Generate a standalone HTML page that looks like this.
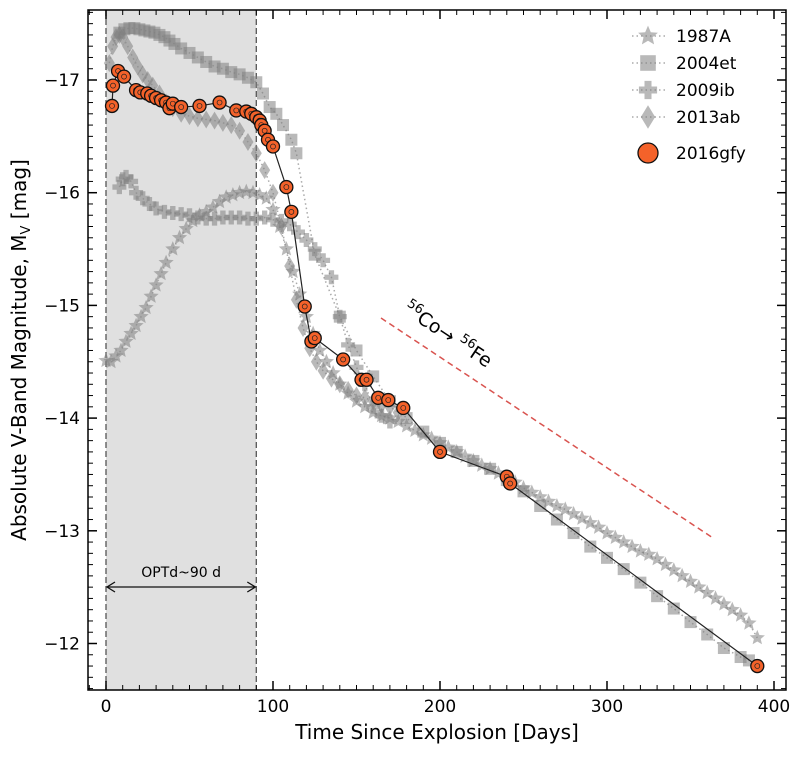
<!DOCTYPE html>
<html><head><meta charset="utf-8"><style>
body{margin:0;background:#fff;}
svg{font-family:"DejaVu Sans","Liberation Sans",sans-serif;}
</style></head><body>
<svg id="chart" width="804" height="752" viewBox="0 0 804 752" xmlns="http://www.w3.org/2000/svg"></svg>
<script>
const days87=[0,3,6,9,12,15,18,21,24,27,30,33,36,40,44,48,52,56,60,64,68,72,76,80,84,88,92,96,100,104,108,112,116,120,124,128,132,136,140,145,150,155,160,165,170,175,180,185,190,195,200,205,210,215,220,225,230,235,240,245,250,255,260,265,270,275,280,285,290,295,300,305,310,315,320,325,330,335,340,345,350,355,360,365,370,375,380,385,390];
const mag87=[-14.51,-14.5,-14.55,-14.6,-14.68,-14.75,-14.82,-14.9,-14.98,-15.08,-15.18,-15.28,-15.38,-15.5,-15.6,-15.68,-15.75,-15.8,-15.83,-15.87,-15.92,-15.96,-15.98,-16.0,-16.01,-16.0,-15.98,-15.95,-15.85,-15.7,-15.5,-15.3,-15.1,-14.9,-14.75,-14.6,-14.5,-14.4,-14.3,-14.22,-14.15,-14.1,-14.05,-14.02,-14.0,-13.97,-13.93,-13.89,-13.85,-13.82,-13.78,-13.74,-13.7,-13.66,-13.62,-13.58,-13.55,-13.51,-13.47,-13.43,-13.38,-13.34,-13.3,-13.26,-13.22,-13.19,-13.15,-13.11,-13.07,-13.03,-12.98,-12.94,-12.9,-12.86,-12.82,-12.79,-12.75,-12.7,-12.65,-12.6,-12.55,-12.5,-12.45,-12.4,-12.35,-12.3,-12.25,-12.18,-12.05];
const days04=[8,11,14,17,20,23,26,29,32,35,38,41,45,50,55,60,65,70,75,80,85,90,94,98,102,106,111,114,125,140,150,160,170,180,190,200,210,220,230,240,250,260,270,280,290,300,310,320,330,340,350,360,370,380,385];
const mag04=[-17.42,-17.45,-17.46,-17.46,-17.45,-17.44,-17.43,-17.42,-17.4,-17.38,-17.35,-17.32,-17.28,-17.24,-17.2,-17.16,-17.12,-17.1,-17.07,-17.05,-17.02,-16.98,-16.88,-16.76,-16.7,-16.6,-16.47,-16.35,-15.45,-14.9,-14.6,-14.37,-14.15,-14.0,-13.88,-13.78,-13.7,-13.62,-13.55,-13.45,-13.35,-13.22,-13.1,-12.98,-12.86,-12.76,-12.66,-12.54,-12.42,-12.31,-12.19,-12.08,-11.96,-11.88,-11.85];
const days09=[8,10,12,15,18,22,26,30,35,40,45,50,55,60,65,70,75,80,85,90,95,100,105,110,115,120,125,130,135,140,145,150,155,160,165,170];
const mag09=[-16.05,-16.12,-16.14,-16.1,-16.0,-15.95,-15.9,-15.86,-15.83,-15.82,-15.81,-15.8,-15.78,-15.77,-15.77,-15.78,-15.78,-15.78,-15.77,-15.77,-15.78,-15.76,-15.75,-15.72,-15.65,-15.58,-15.5,-15.4,-15.25,-14.9,-14.65,-14.45,-14.3,-14.1,-14.02,-13.97];
const days13=[2,4,6,8,10,13,16,19,22,25,28,32,36,40,45,50,55,60,65,70,75,80,85,90,95,100,105,110,114,118,122,126,130,135,140,145,150,155,160,165,170,175];
const mag13=[-17.15,-17.3,-17.38,-17.4,-17.38,-17.3,-17.2,-17.12,-17.05,-17.0,-16.95,-16.88,-16.8,-16.75,-16.7,-16.68,-16.66,-16.65,-16.64,-16.62,-16.6,-16.55,-16.45,-16.35,-16.2,-16.0,-15.7,-15.35,-15.05,-14.8,-14.62,-14.5,-14.42,-14.35,-14.3,-14.25,-14.2,-14.18,-14.15,-14.12,-14.1,-14.05];
const daysGfy=[3.6,4.2,7.2,10.8,18,20.5,24.7,27,30,33,36,38,40,45,56,68,78,84,87,90,92,93,95,97,100,108,111,119,123,125,142,153,156,163,169,178,200,240,242,390];
const magGfy=[-16.77,-16.95,-17.08,-17.03,-16.91,-16.89,-16.88,-16.86,-16.84,-16.82,-16.8,-16.75,-16.79,-16.76,-16.77,-16.8,-16.73,-16.72,-16.7,-16.67,-16.64,-16.6,-16.55,-16.47,-16.41,-16.05,-15.83,-14.99,-14.68,-14.71,-14.52,-14.34,-14.34,-14.18,-14.16,-14.09,-13.7,-13.48,-13.42,-11.8];
const xTicks=[0,100,200,300,400];
const yTicks=[-17,-16,-15,-14,-13,-12];

const L=88,R=786,T=10,B=690;
const X=d=>106+1.67*d;
const Y=m=>80+(m+17)*112.7;
const svg=document.getElementById('chart');
const NS='http://www.w3.org/2000/svg';
function mk(tag,attrs,parent){const e=document.createElementNS(NS,tag);for(const k in attrs)e.setAttribute(k,attrs[k]);(parent||svg).appendChild(e);return e;}

let sh=mk('rect',{x:X(0),y:T,width:X(90)-X(0),height:B-T,fill:'#e0e0e0'});


[0,90].forEach(d=>{let l=mk('line',{x1:X(d),x2:X(d),y1:T,y2:B,stroke:'#555','stroke-width':1.3,'stroke-dasharray':'6,3'});

});

function star(cx,cy,r){let p=[];for(let i=0;i<10;i++){const a=-Math.PI/2+i*Math.PI/5;const rr=i%2?r*0.45:r;p.push((cx+rr*Math.cos(a)).toFixed(1)+','+(cy+rr*Math.sin(a)).toFixed(1));}return p.join(' ');}
function plus(cx,cy,r){const w=r*0.38;return [[-w,-r],[w,-r],[w,-w],[r,-w],[r,w],[w,w],[w,r],[-w,r],[-w,w],[-r,w],[-r,-w],[-w,-w]].map(q=>(cx+q[0]).toFixed(1)+','+(cy+q[1]).toFixed(1)).join(' ');}
function drawMarker(type,cx,cy,g,big){
  const s=big?1.3:1;
  if(type==='star')return mk('polygon',{points:star(cx,cy,8*s),fill:'#808080','fill-opacity':0.55},g);
  if(type==='square')return mk('rect',{x:cx-6*s,y:cy-6*s,width:12*s,height:12*s,fill:'#808080','fill-opacity':0.55},g);
  if(type==='plus')return mk('polygon',{points:plus(cx,cy,7*s),fill:'#808080','fill-opacity':0.55},g);
  return mk('polygon',{points:`${cx},${cy-9*s} ${cx+5.5*s},${cy} ${cx},${cy+9*s} ${cx-5.5*s},${cy}`,fill:'#808080','fill-opacity':0.55},g);
}
function series(name,days,mags,type){
  const g=mk('g',{});
  
  
  mk('polyline',{points:days.map((d,i)=>X(d)+','+Y(mags[i])).join(' '),fill:'none',stroke:'#aaa','stroke-width':1.5,'stroke-dasharray':'1.5,3'},g);
  days.forEach((d,i)=>{const m=drawMarker(type,X(d),Y(mags[i]),g);
    
    });
}
series('1987a',days87,mag87,'star');
series('2004et',days04,mag04,'square');
series('2009ib',days09,mag09,'plus');
series('2013ab',days13,mag13,'diamond');

const gg=mk('g',{});


mk('polyline',{points:daysGfy.map((d,i)=>X(d)+','+Y(magGfy[i])).join(' '),fill:'none',stroke:'#222','stroke-width':1.2},gg);
daysGfy.forEach((d,i)=>{const c=mk('circle',{cx:X(d),cy:Y(magGfy[i]),r:6.5,fill:'#f4622a',stroke:'#111','stroke-width':1.3},gg);


mk('circle',{cx:X(d),cy:Y(magGfy[i]),r:2.5,fill:'none',stroke:'#222','stroke-width':0.7},gg);});

let rl=mk('line',{x1:381,y1:318,x2:713,y2:538,stroke:'#d9534f','stroke-width':1.5,'stroke-dasharray':'6,4'});


let ct=mk('text',{x:402,y:312,'font-size':19,transform:'rotate(33.5 402 312)'});
ct.innerHTML='<tspan font-size="13" dy="-8">56</tspan><tspan dy="8">Co→ </tspan><tspan font-size="13" dy="-8">56</tspan><tspan dy="8">Fe</tspan>';



let ag=mk('g',{});


mk('line',{x1:X(0)+1,x2:X(90)-1,y1:587,y2:587,stroke:'#111','stroke-width':1.3},ag);
mk('path',{d:`M${X(0)+9},582 L${X(0)+1},587 L${X(0)+9},592 M${X(90)-9},582 L${X(90)-1},587 L${X(90)-9},592`,fill:'none',stroke:'#111','stroke-width':1.3},ag);
let ot=mk('text',{x:(X(0)+X(90))/2,y:577,'font-size':14,'text-anchor':'middle'});
ot.textContent='OPTd~90 d';



let fr=mk('rect',{x:L,y:T,width:R-L,height:B-T,fill:'none',stroke:'#000','stroke-width':1.5});


for(let d=-10;d<=410;d+=10){const x=X(d);if(x<L||x>R)continue;const maj=d%100===0;const len=maj?9:5;
 mk('line',{x1:x,x2:x,y1:B,y2:B-len,stroke:'#000','stroke-width':maj?1.5:1});
 mk('line',{x1:x,x2:x,y1:T,y2:T+len,stroke:'#000','stroke-width':maj?1.5:1});}
for(let k=-176;k<=-115;k++){const m=k/10;const y=Y(m);if(y<T||y>B)continue;const maj=k%10===0;const len=maj?9:5;
 mk('line',{x1:L,x2:L+len,y1:y,y2:y,stroke:'#000','stroke-width':maj?1.5:1});
 mk('line',{x1:R,x2:R-len,y1:y,y2:y,stroke:'#000','stroke-width':maj?1.5:1});}
xTicks.forEach(v=>{const t=mk('text',{x:X(v),y:712,'font-size':17,'text-anchor':'middle'});t.textContent=v;

});
yTicks.forEach(v=>{const t=mk('text',{x:80,y:Y(v)+6,'font-size':17,'text-anchor':'end'});t.textContent='−'+Math.abs(v);

});
let xt=mk('text',{x:437,y:739,'font-size':20,'text-anchor':'middle'});xt.textContent='Time Since Explosion [Days]';


let yt=mk('text',{x:26,y:350,'font-size':20,'text-anchor':'middle',transform:'rotate(-90 26 350)'});
yt.innerHTML='Absolute V-Band Magnitude, M<tspan font-size="13" dy="4">V</tspan><tspan dy="-4"> [mag]</tspan>';



const legNames=['1987A','2004et','2009ib','2013ab','2016gfy'];
const legTypes=['star','square','plus','diamond','circle'];
const legY=[36,63,90,117,153];
legNames.forEach((n,i)=>{const g=mk('g',{});


const y=legY[i];
if(legTypes[i]==='circle'){mk('circle',{cx:648,cy:y,r:10,fill:'#f4622a',stroke:'#111','stroke-width':1.3},g);}
else{mk('line',{x1:632,x2:666,y1:y,y2:y,stroke:'#aaa','stroke-width':1.5,'stroke-dasharray':'1.5,3'},g);drawMarker(legTypes[i],648,y,g,true);}
const t=mk('text',{x:676,y:y+6,'font-size':17},g);t.textContent=n;});
</script>
</body></html>
